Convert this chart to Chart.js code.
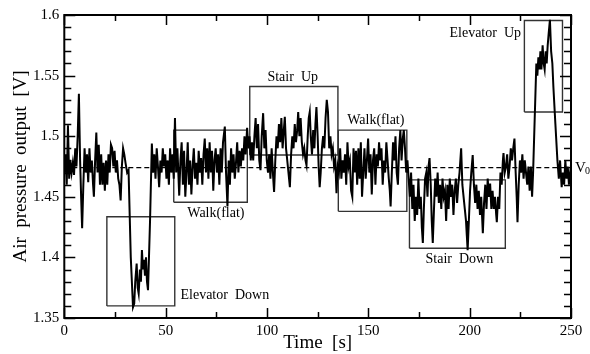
<!doctype html>
<html lang="en">
  <head>
    <meta charset="utf-8">
    <title>Air pressure output</title>
    <style>
      html, body { margin: 0; padding: 0; background: #fff; }
      #wrap { width: 590px; height: 354px; }
    </style>
  </head>
  <body>
    <div id="wrap">
        <canvas id="pressureChart" width="590" height="354"></canvas>
    </div>

    <script src="https://cdn.jsdelivr.net/npm/chart.js"></script>

    <script>
        // Leituras: tempo [s] e pressao [V]
        const time = [
            0, 0.6, 1.2, 1.8, 2.4, 3.0, 3.6, 4.2, 4.8, 5.4, 6.0, 6.6, 7.2, 7.8, 8.3, 8.8, 9.4, 10.0,
            10.6, 11.2, 11.8, 12.4, 13.0, 13.6, 14.2, 14.6, 15.2, 15.8, 16.4, 17.0, 17.6, 18.2, 18.8, 19.4, 20.0,
            20.6, 21.2, 21.8, 22.4, 23.0, 23.6, 24.2, 24.8, 25.4, 26.0, 26.6, 27.2, 27.8, 28.4, 29.0, 29.6, 30.2, 31.0, 31.7,
            32.8, 33.9, 34.5, 35.0, 35.7, 36.2, 36.7, 37.3, 37.8, 38.3, 38.8, 39.3, 39.8, 40.3, 40.8, 41.3, 42.3, 43.2,
            43.8, 44.4, 45.0, 45.6, 46.2, 46.8, 47.4, 48.0, 48.6, 49.2, 49.8, 50.4, 51.0, 51.6, 52.2, 52.8, 53.4, 54.0, 54.6, 55.2,
            55.8, 56.7, 57.3, 57.9, 58.5, 59.1, 59.7, 60.3, 60.9, 61.5, 62.1, 62.7, 63.3, 63.9, 64.5, 65.1, 65.7, 66.3, 66.9, 67.5,
            68.1, 68.7, 69.3, 69.9, 70.5, 71.1, 71.7, 72.3, 72.9, 73.5, 74.1, 74.7, 75.3, 75.9, 76.5, 77.1, 77.7, 78.3, 79.2, 79.8,
            80.5, 81.1, 81.7, 82.3, 82.9, 83.5, 84.1, 84.7, 85.3, 85.9, 86.5, 87.1, 87.7, 88.3, 88.9, 89.5,
            90.2, 90.8, 91.4, 92.0, 92.6, 93.2, 93.8, 94.4, 95.0, 95.6, 96.2, 96.8, 97.4, 98.1, 98.7, 99.3, 99.9,
            100.5, 101.1, 101.7, 102.3, 102.9, 103.5, 104.1, 104.7, 105.3, 105.9, 106.5, 107.1, 107.7, 108.3, 108.8, 109.4,
            110.0, 110.6, 111.3, 111.9, 112.5, 113.1, 113.7, 114.3, 114.9, 115.4, 116.0, 116.6, 117.2, 117.8, 118.4, 119.0, 119.5,
            120.1, 120.6, 121.1, 121.6, 122.2, 122.8, 123.4, 123.9, 124.4, 125.0, 125.5, 126.0, 126.5, 127.1, 127.7, 128.3, 128.9,
            129.5, 130.1, 130.7, 131.3, 131.9, 132.5, 133.1, 133.7, 134.3, 134.9,
            135.5, 136.1, 136.7, 137.3, 137.9, 138.5, 139.1, 139.7, 140.3, 140.9, 141.5, 142.1, 142.7, 143.3, 143.9, 144.5,
            145.1, 145.7, 146.3, 146.9, 147.5, 148.1, 148.7, 149.3, 149.9, 150.5, 151.1, 151.7, 152.3, 152.9, 153.5, 154.1,
            154.7, 155.3, 155.9, 156.5, 157.1, 157.7, 158.3, 158.9, 159.5, 160.1, 160.6, 161.0, 161.6, 162.2, 162.8, 163.4,
            164.0, 164.6, 165.2, 165.8, 166.4, 167.0, 167.5, 168.1, 168.7, 169.3, 169.9,
            170.5, 171.1, 171.7, 172.3, 172.9, 173.5, 174.1, 174.7, 175.3, 175.9, 176.4, 176.9, 177.4, 178.0, 178.6, 179.2,
            179.7, 180.2, 180.8, 181.3, 181.8, 182.4, 183.0, 183.6, 184.2, 184.8, 185.4, 186.0, 186.6, 187.2, 187.8, 188.4,
            189.0, 189.6, 190.2, 190.8, 191.4, 192.0, 192.6, 193.2, 193.8, 194.4, 195.0, 195.8, 196.4, 197.0, 197.6, 198.2,
            198.6, 199.0, 199.6, 200.2, 200.8, 201.5, 202.1, 202.7, 203.3, 203.9, 204.5, 205.1, 205.7, 206.5, 207.1, 207.7,
            208.3, 208.9, 209.5, 210.1, 210.7, 211.3, 211.9, 212.5, 213.1, 213.4, 214.0, 214.6, 215.2, 215.8, 216.4, 216.7, 217.3,
            217.9, 218.5, 219.1, 219.7, 220.3, 220.9, 221.5, 222.1, 222.7, 223.2, 223.6, 224.2, 224.8, 225.4, 226.0, 226.6,
            227.2, 227.8, 228.4, 229.0, 229.6, 230.2, 230.8, 231.3,
            232.9, 233.4, 233.9, 234.4, 234.9, 235.4, 236.0, 236.5, 237.0, 237.5, 238.0, 238.5, 239.0, 239.6, 240.2, 240.8,
            241.3, 242.3, 243.3, 244.0, 244.6, 245.4, 246.0, 246.6, 247.2, 247.8, 248.4, 249.0, 249.6, 250
        ];
        const pressure = [
            1.47, 1.485, 1.46, 1.509, 1.465, 1.48, 1.47, 1.478, 1.468, 1.49, 1.475, 1.50, 1.535, 1.48, 1.45, 1.424, 1.46, 1.49,
            1.47, 1.485, 1.462, 1.49, 1.47, 1.48, 1.46, 1.45, 1.48, 1.503, 1.47, 1.493, 1.46, 1.485, 1.46, 1.478, 1.455,
            1.48, 1.46, 1.485, 1.47, 1.493, 1.49, 1.475, 1.488, 1.47, 1.48, 1.465, 1.46, 1.447, 1.475, 1.49, 1.485, 1.478, 1.47, 1.472,
            1.40, 1.359, 1.362, 1.38, 1.395, 1.375, 1.37, 1.39, 1.38, 1.406, 1.39, 1.398, 1.385, 1.40, 1.38, 1.373, 1.43, 1.494,
            1.47, 1.485, 1.465, 1.49, 1.475, 1.458, 1.48, 1.47, 1.49, 1.475, 1.485, 1.465, 1.48, 1.46, 1.49, 1.47, 1.485, 1.465, 1.515, 1.47,
            1.49, 1.451, 1.48, 1.495, 1.46, 1.488, 1.45, 1.47, 1.495, 1.46, 1.48, 1.452, 1.475, 1.49, 1.465, 1.478, 1.46, 1.488, 1.47, 1.482,
            1.46, 1.485, 1.498, 1.47, 1.49, 1.465, 1.495, 1.47, 1.488, 1.455, 1.48, 1.49, 1.47, 1.485, 1.46, 1.49, 1.47, 1.495, 1.508, 1.47,
            1.442, 1.48, 1.46, 1.49, 1.47, 1.485, 1.465, 1.478, 1.495, 1.47, 1.488, 1.475, 1.49, 1.48, 1.50, 1.485,
            1.507, 1.49, 1.50, 1.48, 1.495, 1.48, 1.50, 1.515, 1.49, 1.51, 1.48, 1.472, 1.50, 1.519, 1.49, 1.505, 1.48,
            1.47, 1.485, 1.465, 1.49, 1.47, 1.454, 1.48, 1.50, 1.49, 1.51, 1.495, 1.515, 1.49, 1.505, 1.516, 1.49,
            1.48, 1.47, 1.458, 1.485, 1.50, 1.49, 1.51, 1.495, 1.505, 1.52, 1.50, 1.515, 1.495, 1.485, 1.49, 1.48, 1.476,
            1.50, 1.515, 1.52, 1.50, 1.485, 1.505, 1.49, 1.51, 1.524, 1.50, 1.475, 1.458, 1.47, 1.49, 1.50, 1.49, 1.515,
            1.53, 1.52, 1.49, 1.50, 1.485, 1.49, 1.475, 1.48, 1.453, 1.475,
            1.47, 1.49, 1.465, 1.48, 1.47, 1.485, 1.46, 1.495, 1.475, 1.48, 1.455, 1.45, 1.49, 1.47, 1.488, 1.46,
            1.49, 1.465, 1.495, 1.45, 1.47, 1.49, 1.465, 1.48, 1.498, 1.47, 1.485, 1.452, 1.48, 1.49, 1.46, 1.485,
            1.475, 1.495, 1.48, 1.49, 1.46, 1.48, 1.47, 1.495, 1.48, 1.465, 1.455, 1.442, 1.47, 1.495, 1.48, 1.50,
            1.47, 1.46, 1.49, 1.505, 1.48, 1.498, 1.505, 1.49, 1.47, 1.48, 1.465,
            1.45, 1.47, 1.44, 1.46, 1.43, 1.45, 1.435, 1.465, 1.44, 1.45, 1.425, 1.412, 1.44, 1.465, 1.47, 1.45,
            1.475, 1.482, 1.46, 1.43, 1.412, 1.44, 1.465, 1.45, 1.47, 1.445, 1.46, 1.44, 1.465, 1.45, 1.455, 1.43,
            1.46, 1.44, 1.465, 1.45, 1.46, 1.435, 1.455, 1.465, 1.445, 1.46, 1.47, 1.49, 1.46, 1.45, 1.44, 1.43,
            1.418, 1.406, 1.43, 1.455, 1.47, 1.4845, 1.46, 1.445, 1.46, 1.44, 1.455, 1.435, 1.45, 1.42, 1.445, 1.46,
            1.44, 1.465, 1.45, 1.461, 1.44, 1.455, 1.44, 1.45, 1.435, 1.429, 1.45, 1.44, 1.47, 1.46, 1.48, 1.486, 1.47,
            1.475, 1.485, 1.465, 1.475, 1.49, 1.48, 1.49, 1.498, 1.47, 1.45, 1.429, 1.46, 1.48, 1.47, 1.485, 1.465,
            1.48, 1.47, 1.46, 1.475, 1.455, 1.475, 1.45, 1.47,
            1.56, 1.55, 1.565, 1.555, 1.57, 1.555, 1.575, 1.56, 1.555, 1.57, 1.56, 1.575, 1.585, 1.596, 1.57, 1.56,
            1.541, 1.51, 1.48, 1.465, 1.48, 1.458, 1.47, 1.46, 1.48, 1.465, 1.475, 1.46, 1.47, 1.465
        ];

        // Nivel de referencia V0
        const v0Level = 1.474;

        // Janelas de atividade (caixas)
        const boxNames = ['Elevator  Down', 'Walk(flat)', 'Stair  Up', 'Walk(flat)', 'Stair  Down', 'Elevator  Up'];
        const boxStart = [21, 54, 91.5, 135.2, 170.3, 227];
        const boxEnd = [54.5, 90.3, 135, 169, 217.6, 245.8];
        const boxLow = [1.36, 1.4455, 1.4845, 1.438, 1.4075, 1.520];
        const boxHigh = [1.4335, 1.505, 1.541, 1.505, 1.464, 1.5955];
        // onde fica o texto de cada caixa (tempo, pressao)
        const labelTime = [79.2, 74.8, 112.7, 153.7, 194.9, 207.7];
        const labelPressure = [1.369, 1.4366, 1.5488, 1.5134, 1.3987, 1.585];

        // Eixos
        const xTickLabels = ['0', '50', '100', '150', '200', '250'];
        const yTickLabels = ['1.35', '1.4', '1.45', '1.5', '1.55', '1.6'];

        const serif = '"Liberation Serif", "DejaVu Serif", serif';

        const signal = time.map((t, i) => ({ x: t, y: pressure[i] }));

        const boxDatasets = boxNames.map((name, i) => ({
            label: name,
            data: [
                { x: boxStart[i], y: boxLow[i] },
                { x: boxStart[i], y: boxHigh[i] },
                { x: boxEnd[i], y: boxHigh[i] },
                { x: boxEnd[i], y: boxLow[i] },
                { x: boxStart[i], y: boxLow[i] }
            ],
            borderColor: '#333',
            borderWidth: 1.4,
            pointRadius: 0,
            fill: false,
            tension: 0
        }));

        // ticks para dentro + moldura + textos
        const framePlugin = {
            id: 'frame',
            afterDatasetsDraw(chart) {
                const ctx = chart.ctx;
                const a = chart.chartArea;
                const xs = chart.scales.x;
                const ys = chart.scales.y;
                ctx.save();
                ctx.strokeStyle = '#000';
                ctx.lineWidth = 2;
                ctx.strokeRect(a.left, a.top, a.right - a.left, a.bottom - a.top);

                ctx.lineWidth = 1.5;
                ctx.beginPath();
                for (let k = 0; k <= 10; k++) {
                    const px = Math.round(xs.getPixelForValue(k * 25)) + 0.5;
                    const len = k % 2 === 0 ? 10 : 6;
                    ctx.moveTo(px, a.bottom); ctx.lineTo(px, a.bottom - len);
                    ctx.moveTo(px, a.top); ctx.lineTo(px, a.top + len);
                }
                for (let k = 0; k <= 25; k++) {
                    const py = Math.round(ys.getPixelForValue(1.35 + k * 0.01)) + 0.5;
                    const len = k % 5 === 0 ? 11 : 7;
                    ctx.moveTo(a.left, py); ctx.lineTo(a.left + len, py);
                    ctx.moveTo(a.right, py); ctx.lineTo(a.right - len, py);
                }
                ctx.stroke();

                ctx.fillStyle = '#000';
                ctx.font = '14px ' + serif;
                ctx.textAlign = 'center';
                ctx.textBaseline = 'middle';
                boxNames.forEach((name, i) => {
                    ctx.fillText(name, xs.getPixelForValue(labelTime[i]), ys.getPixelForValue(labelPressure[i]));
                });

                // V0
                const vy = ys.getPixelForValue(v0Level);
                ctx.textAlign = 'left';
                ctx.font = '15px ' + serif;
                ctx.fillText('V', a.right + 4, vy);
                ctx.font = '10px ' + serif;
                ctx.fillText('0', a.right + 14, vy + 4);
                ctx.restore();
            }
        };

        new Chart(document.getElementById('pressureChart'), {
            type: 'line',
            data: {
                datasets: [
                    {
                        label: 'Pressao',
                        data: signal,
                        borderColor: '#000',
                        borderWidth: 2,
                        pointRadius: 0,
                        fill: false,
                        tension: 0
                    },
                    {
                        label: 'V0',
                        data: [{ x: 0, y: v0Level }, { x: 250, y: v0Level }],
                        borderColor: '#000',
                        borderWidth: 1.2,
                        borderDash: [5, 3],
                        pointRadius: 0,
                        fill: false
                    },
                    ...boxDatasets
                ]
            },
            options: {
                responsive: false,
                animation: false,
                layout: { padding: { top: 15, right: 19, left: 0, bottom: 0 } },
                plugins: {
                    legend: { display: false },
                    tooltip: { enabled: false }
                },
                scales: {
                    x: {
                        type: 'linear',
                        min: 0,
                        max: 250,
                        afterFit(scale) { scale.height = 36; },
                        grid: { display: false, drawTicks: false },
                        border: { display: false },
                        ticks: {
                            stepSize: 50,
                            autoSkip: false,
                            padding: 4,
                            color: '#000',
                            font: { family: serif, size: 15 },
                            maxRotation: 0,
                            callback: (v, i) => xTickLabels[i]
                        },
                        title: {
                            display: true,
                            text: 'Time  [s]',
                            color: '#000',
                            font: { family: serif, size: 19 },
                            padding: { top: -1, bottom: 0 }
                        }
                    },
                    y: {
                        min: 1.35,
                        max: 1.6,
                        afterFit(scale) { scale.width = 64.3; },
                        grid: { display: false, drawTicks: false },
                        border: { display: false },
                        ticks: {
                            stepSize: 0.05,
                            autoSkip: false,
                            padding: 5,
                            color: '#000',
                            font: { family: serif, size: 15 },
                            callback: (v, i) => yTickLabels[i]
                        },
                        title: {
                            display: true,
                            text: 'Air  pressure  output  [V]',
                            color: '#000',
                            font: { family: serif, size: 19 },
                            padding: { top: 10, bottom: 0 }
                        }
                    }
                }
            },
            plugins: [framePlugin]
        });
    </script>
</body>
</html>
